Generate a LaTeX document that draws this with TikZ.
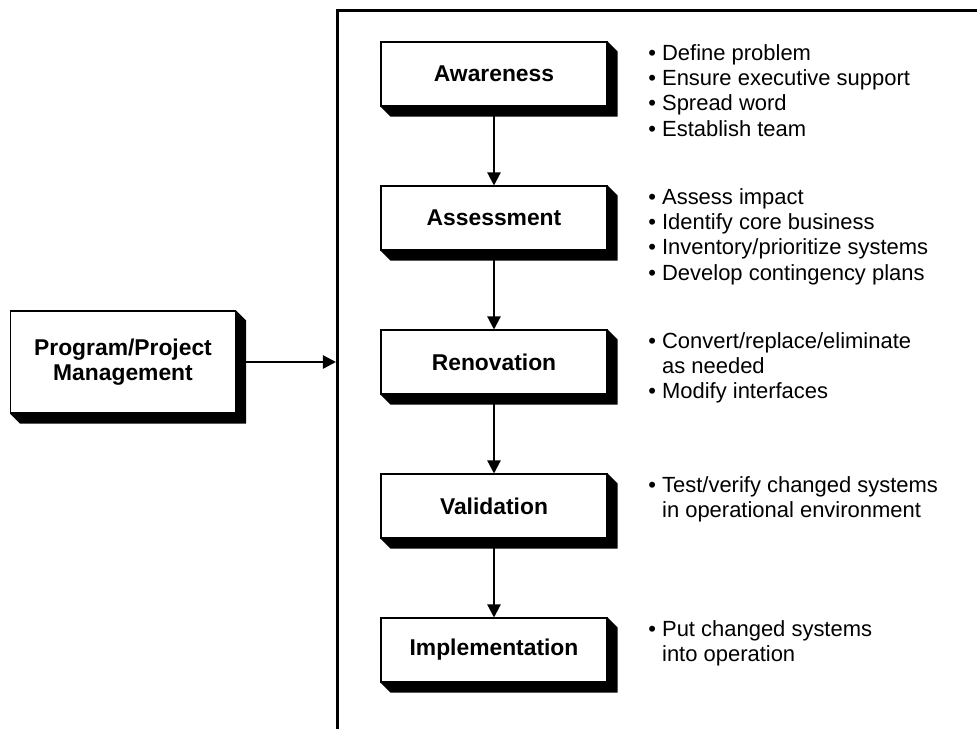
\documentclass[tikz,border=0pt]{standalone}
\usepackage{fontspec}
\setmainfont{Liberation Sans}
\usetikzlibrary{arrows.meta}

% bullet line and indented continuation line
\newcommand{\pnt}[1]{\textbullet\ #1}
\newcommand{\cnt}[1]{\phantom{\textbullet\ }#1}

\begin{document}
\begin{tikzpicture}[x=0.02cm, y=-0.02cm,
    phase/.style={draw, line width=0.6pt, fill=white, inner sep=0pt,
      minimum width=4.52cm, minimum height=1.28cm,
      font=\fontsize{13}{14}\selectfont\bfseries},
    notes/.style={anchor=base west, inner sep=0pt,
      font=\fontsize{12.5}{14.5}\selectfont},
    arr/.style={line width=1.3pt, -{Triangle[width=7.5pt,length=7.5pt]}}]
  \useasboundingbox (0,0) rectangle (977,728);
  \clip (0,0) rectangle (977,728);
  % outer frame, cut by the picture edge on the right and below
  \node[draw, line width=1.5pt, anchor=north west, minimum width=13.2cm,
        minimum height=14.8cm] (frame) at (336,9) {};
  % phases
  \foreach \nm/\txt [count=\i from 0] in {aware/Awareness, assess/Assessment,
      renov/Renovation, valid/Validation, impl/Implementation} {
    \node[phase] (\nm) at (494, 74+144*\i) {\txt};
  }
  \node[phase, minimum width=4.5cm, minimum height=2.04cm, align=center]
    (prog) at (123,362) {Program/Project\\Management};
  % solid shadows
  \foreach \nm in {aware, assess, renov, valid, impl, prog} {
    \fill (\nm.north east) -- ++(10,10) |- ([shift={(10,10)}]\nm.south west)
      -- (\nm.south west) -- (\nm.south east) -- cycle;
  }
  % arrows
  \draw[arr] (aware) -- (assess);
  \draw[arr] (assess) -- (renov);
  \draw[arr] (renov) -- (valid);
  \draw[arr] (valid) -- (impl);
  \draw[arr] (prog) -- (prog -| frame.west);
  % bullet lists
  \node[notes] (aware-notes) at (648,60) {\begin{tabular}[t]{@{}l@{}}
    \pnt{Define problem}\\ \pnt{Ensure executive support}\\
    \pnt{Spread word}\\ \pnt{Establish team}\end{tabular}};
  \node[notes] (assess-notes) at (648,204) {\begin{tabular}[t]{@{}l@{}}
    \pnt{Assess impact}\\ \pnt{Identify core business}\\
    \pnt{Inventory/prioritize systems}\\
    \pnt{Develop contingency plans}\end{tabular}};
  \node[notes] (renov-notes) at (648,348) {\begin{tabular}[t]{@{}l@{}}
    \pnt{Convert/replace/eliminate}\\ \cnt{as needed}\\
    \pnt{Modify interfaces}\end{tabular}};
  \node[notes] (valid-notes) at (648,492) {\begin{tabular}[t]{@{}l@{}}
    \pnt{Test/verify changed systems}\\
    \cnt{in operational environment}\end{tabular}};
  \node[notes] (impl-notes) at (648,636) {\begin{tabular}[t]{@{}l@{}}
    \pnt{Put changed systems}\\ \cnt{into operation}\end{tabular}};
\end{tikzpicture}
\end{document}
